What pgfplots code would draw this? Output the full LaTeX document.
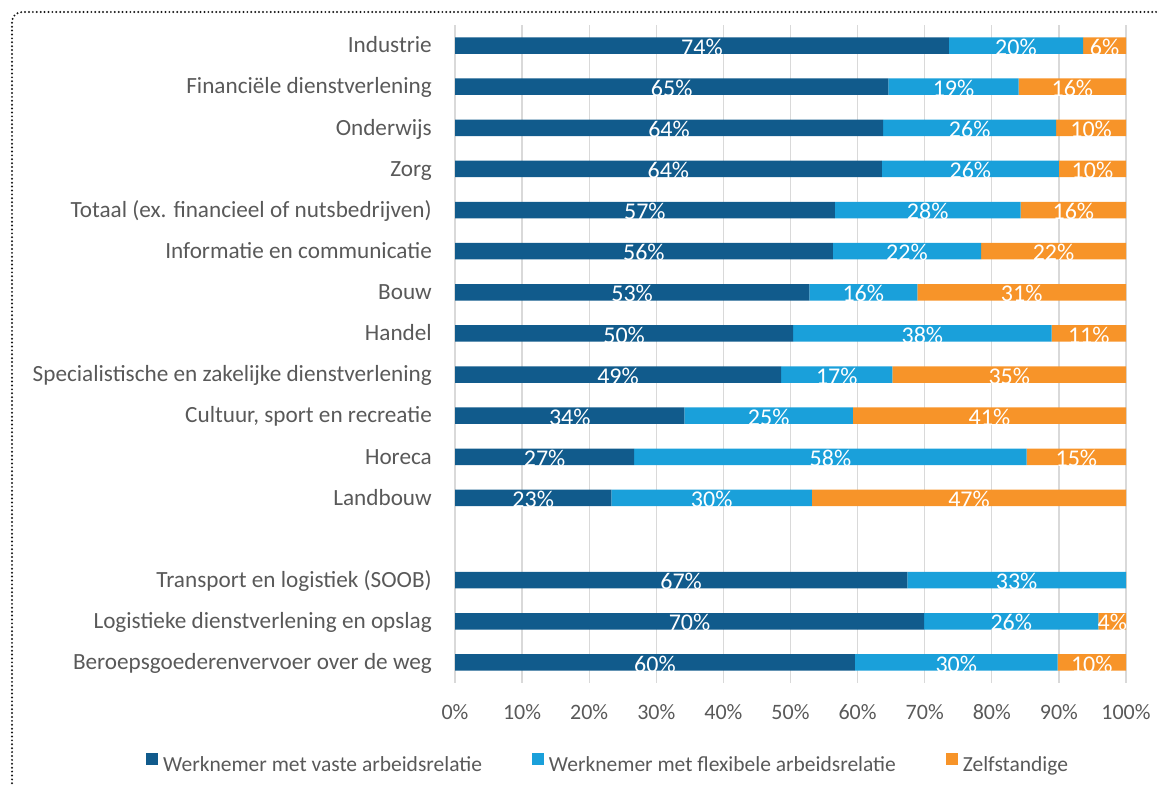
\documentclass[border=0pt]{standalone}
\usepackage{pgfplots}
\pgfplotsset{compat=1.18}
\usepackage{pgfplotstable}
\usepackage{fontspec}
\setmainfont{Carlito}
\definecolor{cDark}{RGB}{17,91,140}
\definecolor{cLight}{RGB}{26,160,218}
\definecolor{cOrange}{RGB}{247,148,41}
\definecolor{cText}{RGB}{89,89,89}
\definecolor{cGrid}{RGB}{217,217,217}
\pgfplotsset{sqlegend/.style={legend image code/.code={\fill[##1,draw=none] (0bp,0bp) rectangle (12bp,12bp);}}}
\pgfplotstableread{
y a b c la lb lc
15 73.6 20.0 6.4 74 20 6
14 64.6 19.4 16.0 65 19 16
13 63.8 25.8 10.4 64 26 10
12 63.6 26.4 10.0 64 26 10
11 56.6 27.7 15.7 57 28 16
10 56.3 22.1 21.6 56 22 22
9 52.8 16.1 31.1 53 16 31
8 50.4 38.5 11.1 50 38 11
7 48.6 16.6 34.8 49 17 35
6 34.2 25.1 40.7 34 25 41
5 26.7 58.5 14.8 27 58 15
4 23.3 29.9 46.8 23 30 47
2 67.4 32.6 0.001 67 33 0
1 69.9 26.0 4.1 70 26 4
0 59.6 30.2 10.2 60 30 10
}\data
\begin{document}
\begin{tikzpicture}
\useasboundingbox (0,0) rectangle (1159bp,785bp);
\draw[line width=2.2bp, dash pattern=on 0bp off 3.9bp, line cap=round, rounded corners=10bp, color=black!90] (12bp,-10bp) -- (12bp,773bp) -- (1180bp,773bp);
\begin{axis}[
  at={(455bp,102bp)}, anchor=south west,
  scale only axis, width=671bp, height=658bp,
  xbar stacked, bar width=16.4bp,
  xmin=0, xmax=100, ymin=-0.5, ymax=15.5,
  axis line style={draw=none},
  major tick length=0pt,
  xtick={0,10,...,100},
  xticklabels={0\%,10\%,20\%,30\%,40\%,50\%,60\%,70\%,80\%,90\%,100\%},
  ytick={0,1,2,4,5,6,7,8,9,10,11,12,13,14,15},
  yticklabels={Beroepsgoederenvervoer over de weg, Logistieke dienstverlening en opslag, Transport en logistiek (SOOB), Landbouw, Horeca, {Cultuur, sport en recreatie}, Specialistische en zakelijke dienstverlening, Handel, Bouw, Informatie en communicatie, Totaal (ex. financieel of nutsbedrijven), Zorg, Onderwijs, Financiële dienstverlening, Industrie},
  xmajorgrids, grid style={cGrid, line width=1.3bp},
  xticklabel style={anchor=base, inner sep=0pt, yshift=-37bp, text=cText, font=\fontsize{22bp}{26bp}\selectfont},
  yticklabel style={anchor=base east, inner sep=0pt, xshift=-23bp, yshift=-7.3bp, text=cText, font=\fontsize{23.2bp}{28bp}\selectfont},
  point meta=explicit symbolic,
  nodes near coords={\pgfplotspointmeta\%},
  every node near coord/.append style={anchor=center, inner sep=0pt, text=white, font=\fontsize{24bp}{28bp}\selectfont, yshift=-1.5bp},
  legend style={at={(-0.4605,-0.1216)}, anchor=west, draw=none, fill=none, inner sep=0pt, legend columns=-1, font=\fontsize{21.5bp}{26bp}\selectfont, text=cText, /tikz/every odd column/.append style={column sep=5bp}, /tikz/every even column/.append style={column sep=50bp}, nodes={inner sep=0pt}},
]
\addplot[fill=cDark, draw=none, sqlegend] table[x=a, y=y, meta=la] {\data};
\addplot[fill=cLight, draw=none, sqlegend] table[x=b, y=y, meta=lb] {\data};
\addplot[fill=cOrange, draw=none, sqlegend] table[x=c, y=y, meta=lc] {\data};
\legend{Werknemer met vaste arbeidsrelatie, Werknemer met flexibele arbeidsrelatie, Zelfstandige}
\end{axis}
\end{tikzpicture}
\end{document}
